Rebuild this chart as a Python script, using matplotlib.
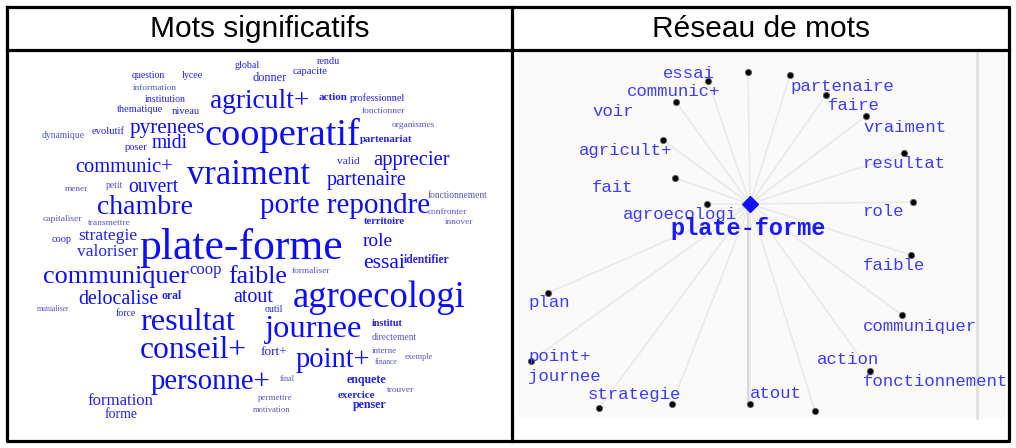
import matplotlib.pyplot as plt

# nuage de mots (panneau gauche)
cloud_words = ['question', 'lycee', 'global', 'rendu', 'capacite', 'donner', 'information',
               'institution', 'thematique', 'niveau', 'agricult+', 'action', 'professionnel',
               'fonctionner', 'organismes', 'dynamique', 'evolutif', 'pyrenees', 'cooperatif',
               'partenariat', 'poser', 'midi', 'valid', 'apprecier', 'communic+', 'vraiment',
               'partenaire', 'fonctionnement', 'mener', 'petit', 'ouvert', 'chambre',
               'porte repondre', 'confronter', 'territoire', 'innover', 'capitaliser',
               'transmettre', 'coop', 'strategie', 'plate-forme', 'valoriser', 'role', 'essai',
               'identifier', 'formaliser', 'communiquer', 'coop', 'faible', 'delocalise', 'oral',
               'atout', 'agroecologi', 'outil', 'mutualiser', 'force', 'resultat', 'journee',
               'institut', 'directement', 'conseil+', 'fort+', 'point+', 'interne', 'finance',
               'exemple', 'personne+', 'final', 'enquete', 'trouver', 'permettre', 'exercice',
               'formation', 'penser', 'forme', 'motivation']
bold_words = {'action', 'oral', 'identifier', 'institut', 'enquete', 'exercice', 'penser',
              'territoire', 'partenariat'}

# emplacement de chaque mot : bord gauche, bord droit, centre vertical (px)
cloud_layout = [
    (132, 165, 76), (182, 203, 76), (235, 260, 66), (317, 340, 62), (293, 328, 72),
    (253, 287, 78), (133, 177, 88), (145, 185, 99), (117, 163, 109), (172, 200, 111),
    (210, 310, 102), (319, 348, 98), (350, 405, 98), (362, 405, 111), (392, 435, 125),
    (42, 85, 136), (92, 125, 131), (130, 205, 128), (205, 360, 135), (360, 413, 139),
    (125, 148, 148), (152, 188, 144), (337, 360, 162), (373, 450, 160), (75, 173, 167),
    (187, 310, 176), (327, 407, 180), (428, 488, 195), (65, 88, 189), (106, 123, 185),
    (128, 178, 187), (97, 193, 208), (260, 430, 206), (428, 467, 212), (363, 405, 222),
    (445, 473, 222), (43, 82, 219), (88, 130, 223), (52, 72, 239), (78, 137, 236),
    (140, 343, 248), (77, 138, 252), (363, 393, 242), (363, 405, 263), (404, 450, 260),
    (292, 330, 271), (43, 188, 277), (190, 222, 270), (228, 287, 277), (78, 158, 300),
    (162, 182, 296), (233, 273, 297), (293, 465, 298), (265, 283, 309), (37, 69, 309),
    (116, 136, 313), (140, 235, 323), (265, 362, 330), (372, 403, 323), (372, 417, 337),
    (140, 247, 350), (260, 287, 352), (295, 370, 360), (372, 397, 351), (375, 398, 362),
    (405, 433, 357), (150, 270, 382), (280, 295, 379), (346, 386, 380), (387, 414, 390),
    (258, 292, 398), (337, 375, 395), (87, 153, 401), (353, 387, 405), (105, 138, 415),
    (253, 290, 410),
]

# réseau de mots (panneau droit)
center_word = 'plate-forme'
center_xy = (750, 204)
net_labels = ['essai', 'communic+', 'voir', 'agricult+', 'fait', 'agroecologi', 'partenaire',
              'faire', 'vraiment', 'resultat', 'role', 'faible', 'communiquer', 'action',
              'fonctionnement', 'atout', 'strategie', 'plan', 'point+', 'journee']
label_x = [663, 627, 592, 579, 592, 623, 790, 828, 863, 863, 863, 863, 863, 817, 863, 750,
           588, 528, 528, 528]
label_y = [73, 92, 112, 150, 188, 215, 86, 106, 128, 163, 212, 265, 326, 359, 382, 394, 394,
           303, 356, 376]
node_x = [708, 676, 748, 663, 675, 707, 790, 826, 866, 904, 913, 911, 902, 870, 815, 750,
          672, 548, 531, 599]
node_y = [81, 102, 72, 140, 178, 204, 75, 95, 116, 153, 202, 255, 315, 371, 411, 404, 404,
          293, 361, 408]

fig = plt.figure(figsize=(10.16, 4.48), dpi=100)
ax = fig.add_axes([0, 0, 1, 1])
ax.set_xlim(0, 1016)
ax.set_ylim(448, 0)
ax.axis('off')

# fond léger du graphe de réseau
ax.add_patch(plt.Rectangle((518, 52), 487, 366, facecolor='#fafafa', edgecolor='none', zorder=0))
ax.plot([977, 977], [52, 418], color='#e0e0e0', lw=2, zorder=1)

# arêtes
for nx, ny in zip(node_x, node_y):
    ax.plot([center_xy[0], nx], [center_xy[1], ny], color='#ebebeb', lw=1.3, zorder=1)
ax.plot([748, 748], [center_xy[1], 404], color='#dadada', lw=1.6, zorder=1)

ax.scatter(node_x, node_y, s=20, color='black', edgecolors='#666666', linewidths=0.7, zorder=3)
ax.scatter([center_xy[0]], [center_xy[1]], marker='D', s=65, color='#1010ff', zorder=3)

for lab, lx, ly in zip(net_labels, label_x, label_y):
    ax.text(lx, ly, lab, ha='left', va='center', family='Liberation Mono', fontsize=12.5,
            color='#3c3cff', zorder=4)
ax.text(748, 228, center_word, ha='center', va='center', family='Liberation Mono',
        fontsize=17, fontweight='bold', color='#1a1aff', zorder=4)

# nuage de mots : taille ajustée à la largeur
texts = []
for w, (x0, x1, y) in zip(cloud_words, cloud_layout):
    t = ax.text((x0 + x1) / 2, y, w, ha='center', va='center', family='Liberation Serif',
                fontsize=10, fontweight='bold' if w in bold_words else 'normal')
    texts.append((t, x1 - x0))

fig.canvas.draw()
r = fig.canvas.get_renderer()
for t, target in texts:
    bb = t.get_window_extent(renderer=r)
    fs = 10 * target / bb.width
    t.set_fontsize(fs)
    if fs < 7:
        t.set_color('#5656cc')
    elif fs < 13:
        t.set_color('#2323e8')
    else:
        t.set_color('#0c0cff')

# tableau
lw = 2.3
ax.plot([7, 1009, 1009, 7, 7], [7, 7, 441, 441, 7], color='black', lw=lw, zorder=5)
ax.plot([7, 1009], [50, 50], color='black', lw=lw, zorder=5)
ax.plot([512, 512], [7, 441], color='black', lw=lw, zorder=5)
ax.text(259.5, 29, 'Mots significatifs', ha='center', va='center', family='Liberation Sans',
        fontsize=21.5)
ax.text(760.5, 29, 'Réseau de mots', ha='center', va='center', family='Liberation Sans',
        fontsize=21.5)

fig.savefig('out.png', dpi=100)
